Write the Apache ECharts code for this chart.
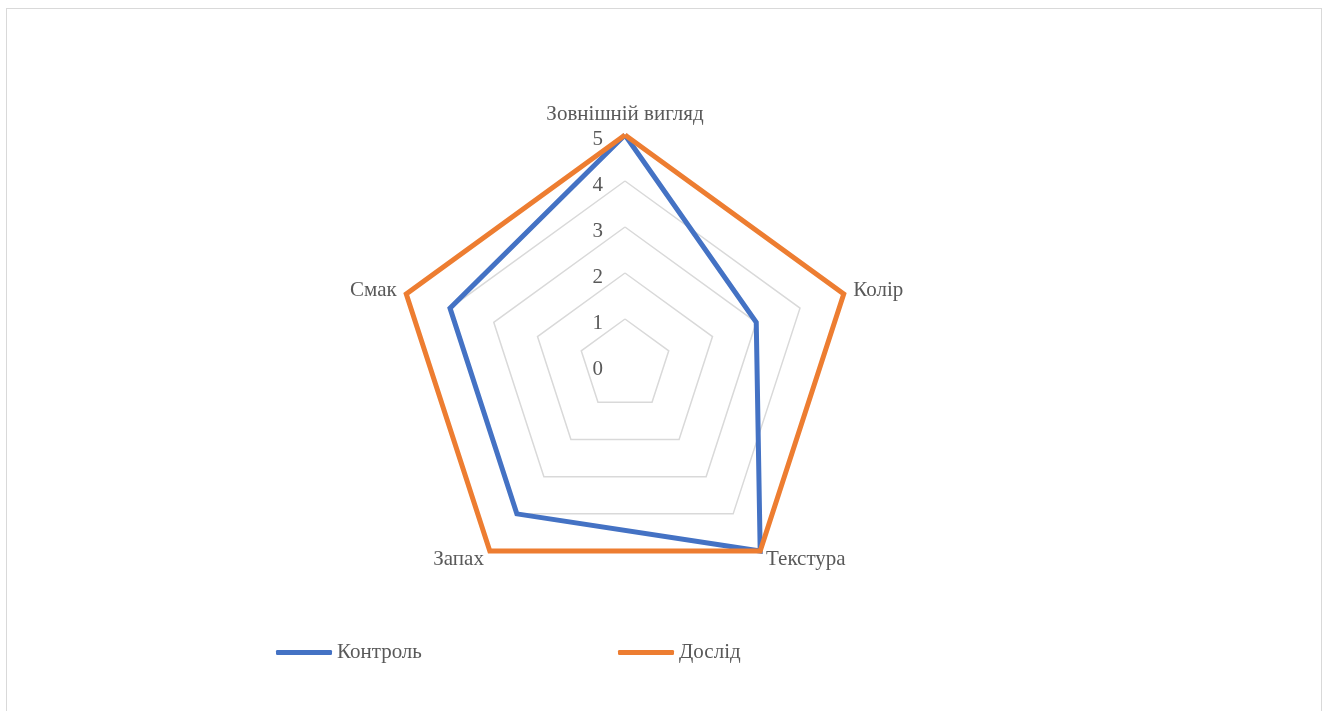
<!DOCTYPE html>
<html>
<head>
<meta charset="utf-8">
<script src="https://cdn.jsdelivr.net/npm/echarts@6/dist/echarts.min.js"></script>
<style>
    html, body {
        margin: 0;
        padding: 0;
        background: #fff;
    }
    .frame {
        position: absolute;
        left: 6px;
        top: 8px;
        width: 1314px;
        height: 720px;
        border: 1.5px solid #d9d9d9;
    }
    #chart {
        position: absolute;
        left: 0;
        top: 0;
        width: 1330px;
        height: 711px;
    }
</style>
</head>
<body>
<div class="frame"></div>
<div id="chart"></div>
<script>
// категорії по колу (за годинниковою стрілкою, від верху)
const categories = ['Зовнішній вигляд', 'Колір', 'Текстура', 'Запах', 'Смак'];
const control = [5, 3, 5, 4, 4];
const experiment = [5, 5, 5, 5, 5];
const seriesNames = ['Контроль', 'Дослід'];
const maxValue = 5;

// echarts малює індикатори проти годинникової стрілки, тому міняємо порядок
const order = [0, 4, 3, 2, 1];
const pick = arr => order.map(i => arr[i]);

const font = 'Liberation Serif';
const textColor = '#595959';

let myChart = echarts.init(document.getElementById('chart'));

myChart.setOption({
    animation: false,
    legend: [
        {
            data: [seriesNames[0]],
            left: 276,
            top: 642,
            padding: 0,
            icon: 'roundRect',
            itemWidth: 56,
            itemHeight: 5,
            textStyle: { fontFamily: font, fontSize: 21, color: textColor }
        },
        {
            data: [seriesNames[1]],
            left: 618,
            top: 642,
            padding: 0,
            icon: 'roundRect',
            itemWidth: 56,
            itemHeight: 5,
            textStyle: { fontFamily: font, fontSize: 21, color: textColor }
        }
    ],
    radar: {
        center: [625, 365],
        radius: 230,
        splitNumber: 5,
        nameGap: 10,
        axisName: {
            fontFamily: font,
            fontSize: 21,
            color: textColor
        },
        indicator: pick(categories).map((name, i) => ({
            name: name,
            min: 0,
            max: maxValue,
            axisLabel: i === 0 ? { show: true } : { show: false }
        })),
        axisLine: { show: false },
        axisTick: { show: false },
        axisLabel: {
            show: false,
            fontFamily: font,
            fontSize: 21,
            color: textColor,
            margin: 22,
            verticalAlign: 'top',
            lineHeight: 8
        },
        splitLine: {
            lineStyle: { color: '#d9d9d9', width: 1.5 }
        },
        splitArea: { show: false }
    },
    series: [
        {
            type: 'radar',
            symbol: 'none',
            data: [
                {
                    name: seriesNames[0],
                    value: pick(control),
                    itemStyle: { color: '#4472C4' },
                    lineStyle: { color: '#4472C4', width: 5, join: 'miter' }
                },
                {
                    name: seriesNames[1],
                    value: pick(experiment),
                    itemStyle: { color: '#ED7D31' },
                    lineStyle: { color: '#ED7D31', width: 5, join: 'miter' }
                }
            ]
        }
    ]
});

window.onresize = function () {
    myChart.resize();
};
</script>
</body>
</html>
